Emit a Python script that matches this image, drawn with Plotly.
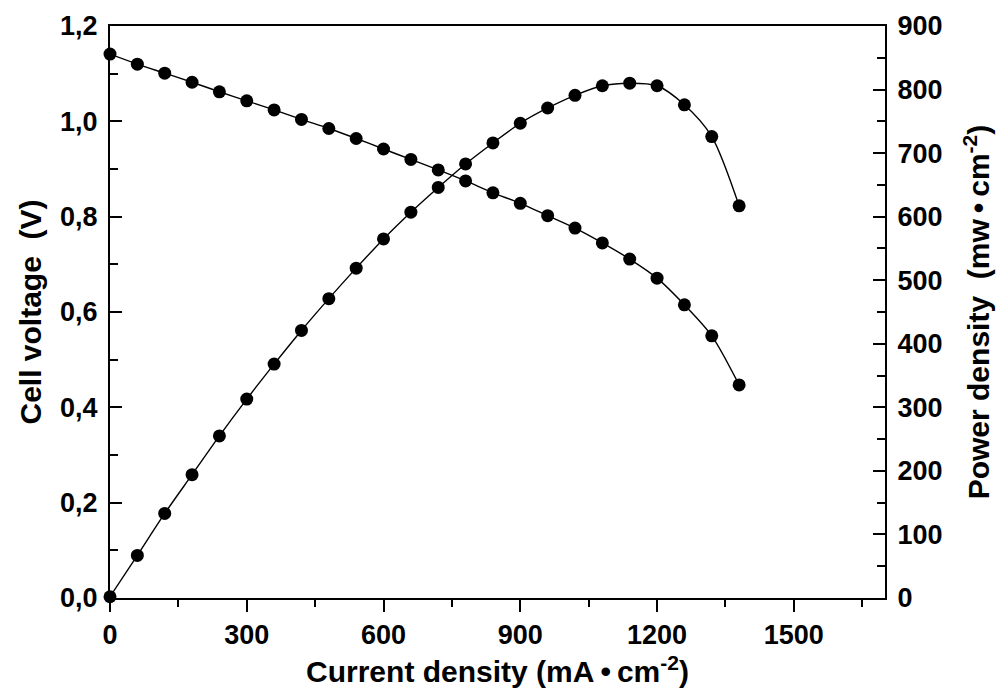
import plotly.graph_objects as go

current = [0, 60, 120, 180, 240, 300, 360, 420, 480, 540, 600, 660, 720, 780,
           840, 900, 960, 1020, 1080, 1140, 1200, 1260, 1320, 1380]
voltage = [1.141, 1.120, 1.101, 1.082, 1.062, 1.043, 1.024, 1.004, 0.985, 0.964,
           0.942, 0.920, 0.898, 0.875, 0.850, 0.828, 0.802, 0.776, 0.745, 0.711,
           0.671, 0.615, 0.550, 0.447]
power = [2, 67, 133, 194, 255, 313, 368, 421, 471, 519, 565, 607, 646, 683,
         716, 747, 771, 791, 806, 810, 806, 776, 726, 617]

FONT = "Liberation Sans, Arial, sans-serif"
line_style = dict(color="black", width=1.4, shape="spline", smoothing=0.8)
marker_style = dict(color="black", size=13, symbol="circle")

fig = go.Figure()
fig.add_trace(go.Scatter(x=current, y=voltage, mode="lines+markers",
                         line=line_style, marker=marker_style, yaxis="y",
                         showlegend=False, cliponaxis=False))
fig.add_trace(go.Scatter(x=current, y=power, mode="lines+markers",
                         line=line_style, marker=marker_style, yaxis="y2",
                         showlegend=False, cliponaxis=False))

tickfont = dict(family=FONT, size=27, color="black", weight="bold")
titlefont = dict(family=FONT, size=30, color="black", weight="bold")
NB = "\u00a0"
TH = "\u2009"

fig.update_layout(
    width=1006, height=700,
    margin=dict(l=110, r=121, t=26, b=102),
    paper_bgcolor="white", plot_bgcolor="white",
    separators=", ",
    xaxis=dict(
        range=[0, 1700], tickvals=[0, 300, 600, 900, 1200, 1500],
        ticks="outside", ticklen=12, tickwidth=2, tickcolor="black",
        minor=dict(dtick=150, tick0=0, ticks="outside", ticklen=7,
                   tickwidth=2, tickcolor="black"),
        showline=True, linecolor="black", linewidth=2, mirror=True,
        showgrid=False, zeroline=False, tickfont=tickfont,
        ticklabelstandoff=0,
        title=dict(text=NB * 3 + "Current density (mA" + TH + "•" + TH + "cm<sup>-2</sup>)",
                   font=titlefont, standoff=12),
    ),
    yaxis=dict(
        range=[0, 1.2], dtick=0.2, tick0=0, tickformat=".1f",
        ticks="inside", ticklen=12, tickwidth=2, tickcolor="black",
        minor=dict(dtick=0.1, tick0=0, ticks="inside", ticklen=8,
                   tickwidth=2, tickcolor="black"),
        showline=True, linecolor="black", linewidth=2,
        showgrid=False, zeroline=False, tickfont=tickfont,
        ticklabelstandoff=5,
        title=dict(text=NB * 6 + "Cell voltage" + NB * 2 + "(V)", font=titlefont,
                   standoff=10),
    ),
    yaxis2=dict(
        range=[0, 900], dtick=100, tick0=0, overlaying="y", side="right",
        ticks="inside", ticklen=12, tickwidth=2, tickcolor="black",
        minor=dict(dtick=50, tick0=0, ticks="inside", ticklen=8,
                   tickwidth=2, tickcolor="black"),
        showline=True, linecolor="black", linewidth=2,
        showgrid=False, zeroline=False, tickfont=tickfont,
        ticklabelstandoff=5,
        title=dict(text="Power density" + NB * 2 + "(mw" + TH + "•" + TH + "cm<sup>-2</sup>)" + NB * 8,
                   font=titlefont, standoff=27),
    ),
)

fig.write_html("out.html")
